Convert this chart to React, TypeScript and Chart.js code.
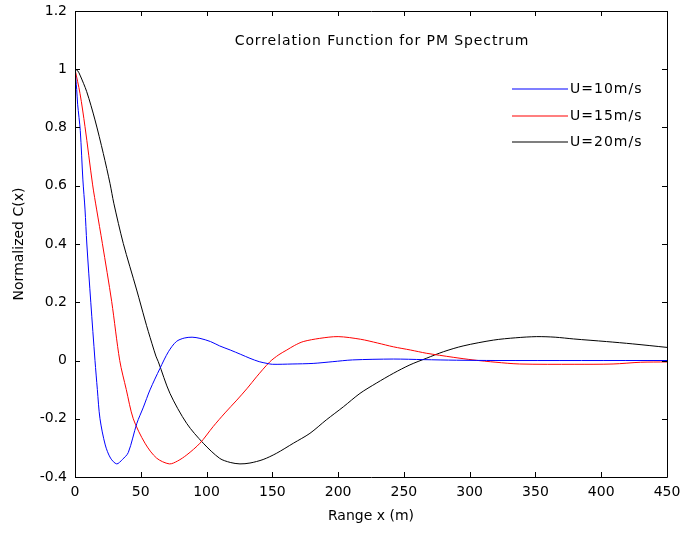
import React, { useEffect, useRef } from "react";
import { Chart, registerables } from "chart.js";

Chart.register(...registerables);

const seriesLabels = ["U=10m/s", "U=15m/s", "U=20m/s"];
const seriesColors = ["#0000ff", "#ff0000", "#000000"];

const x10 = [0, 1.3, 2, 4, 6, 7.6, 9, 12, 15.2, 17, 19, 23, 27, 31.7, 36, 40.5, 47, 52, 57, 64.6, 71, 77, 83, 89, 95, 103, 110, 118, 126, 133, 140, 146, 150, 165, 181, 196, 211, 242, 265, 290, 320, 450];
const y10 = [1, 0.93, 0.88, 0.79, 0.62, 0.52, 0.4, 0.2, 0, -0.1, -0.2, -0.29, -0.335, -0.355, -0.34, -0.316, -0.216, -0.16, -0.101, -0.027, 0.03, 0.065, 0.077, 0.08, 0.076, 0.065, 0.05, 0.036, 0.021, 0.0075, -0.004, -0.01, -0.013, -0.012, -0.01, -0.004, 0.002, 0.005, 0.003, 0.001, 0, 0];

const x15 = [0, 3.8, 7.6, 13.4, 16.5, 20.8, 27.9, 34, 39, 44.3, 53.2, 62, 71.7, 78, 85, 95, 105, 114, 123, 131, 138, 148, 155, 161, 167, 173.5, 186, 200, 217, 230, 242, 255, 267, 277, 287.5, 302.5, 320, 338, 380, 409, 430, 450];
const y15 = [1, 0.917, 0.803, 0.603, 0.517, 0.402, 0.202, 0, -0.1, -0.2, -0.284, -0.335, -0.355, -0.345, -0.324, -0.284, -0.227, -0.18, -0.136, -0.095, -0.056, -0.005, 0.02, 0.036, 0.052, 0.065, 0.076, 0.082, 0.073, 0.06, 0.047, 0.036, 0.025, 0.018, 0.011, 0.002, -0.006, -0.012, -0.013, -0.012, -0.006, -0.005];

const x20 = [0, 2, 3.8, 8.9, 15.2, 21.5, 26.6, 29.5, 36.7, 46.9, 53.2, 55.7, 61.5, 63.3, 72.2, 84.9, 97.5, 110, 118, 125.4, 133, 143, 153, 166, 178.6, 191, 204, 216.6, 229, 242, 254.6, 267, 280, 295, 318, 335, 351, 365, 379, 404, 424, 450];
const y20 = [1, 0.995, 0.98, 0.923, 0.826, 0.711, 0.608, 0.54, 0.402, 0.242, 0.139, 0.1, 0.015, -0.004, -0.113, -0.216, -0.284, -0.336, -0.35, -0.355, -0.352, -0.34, -0.319, -0.284, -0.25, -0.204, -0.159, -0.113, -0.078, -0.044, -0.015, 0.0075, 0.03, 0.05, 0.07, 0.078, 0.082, 0.08, 0.074, 0.065, 0.057, 0.045];

const xTicks = [0, 50, 100, 150, 200, 250, 300, 350, 400, 450];
const yTicks = [-0.4, -0.2, 0, 0.2, 0.4, 0.6, 0.8, 1, 1.2];

const titleText = "Correlation Function for PM Spectrum";
const xTitle = "Range x (m)";
const yTitle = "Normalized C(x)";

const FONT = "'DejaVu Sans', sans-serif";

function pts(xs: number[], ys: number[]) {
  return xs.map((x, i) => ({ x, y: ys[i] }));
}

const frameAndLegend = {
  id: "frameAndLegend",
  afterDatasetsDraw(chart: any) {
    const { ctx, chartArea: a, scales } = chart;
    const xs = scales.x;
    const ys = scales.y;

    // legend lines and labels
    ctx.save();
    const lx0 = a.right - 155;
    const lx1 = lx0 + 56;
    const ly0 = a.top + 78;
    ctx.lineWidth = 1.2;
    seriesLabels.forEach((lab, i) => {
      const yy = Math.round(ly0 + i * 26.5);
      ctx.beginPath();
      ctx.strokeStyle = seriesColors[i];
      ctx.moveTo(lx0, yy);
      ctx.lineTo(lx1, yy);
      ctx.stroke();
    });
    ctx.restore();

    ctx.save();
    ctx.fillStyle = "#000";
    ctx.font = "14px " + FONT;
    ctx.textBaseline = "middle";
    try { (ctx as any).letterSpacing = "1px"; } catch (e) {}
    ctx.textAlign = "left";
    seriesLabels.forEach((lab, i) => {
      const yy = Math.round(ly0 + i * 26.5);
      ctx.fillText(lab, lx1 + 2, yy);
    });
    // title inside the axes
    try { (ctx as any).letterSpacing = "0.9px"; } catch (e) {}
    ctx.textAlign = "center";
    ctx.fillText(titleText, 382, a.top + 30);
    try { (ctx as any).letterSpacing = "0px"; } catch (e) {}
    ctx.restore();

    // frame and inward ticks
    ctx.save();
    ctx.strokeStyle = "#000";
    ctx.lineWidth = 1;
    ctx.beginPath();
    ctx.rect(Math.round(a.left) + 0.5, Math.round(a.top) + 0.5, Math.round(a.right - a.left), Math.round(a.bottom - a.top));
    ctx.stroke();
    const tl = 5;
    ctx.beginPath();
    xTicks.forEach((v) => {
      const px = Math.round(xs.getPixelForValue(v)) + 0.5;
      ctx.moveTo(px, a.bottom);
      ctx.lineTo(px, a.bottom - tl);
      ctx.moveTo(px, a.top);
      ctx.lineTo(px, a.top + tl);
    });
    yTicks.forEach((v) => {
      const py = Math.round(ys.getPixelForValue(v)) + 0.5;
      ctx.moveTo(a.left, py);
      ctx.lineTo(a.left + tl, py);
      ctx.moveTo(a.right, py);
      ctx.lineTo(a.right - tl, py);
    });
    ctx.stroke();
    ctx.restore();
  },
};

export default function App() {
  const ref = useRef<HTMLCanvasElement>(null);
  useEffect(() => {
    if (!ref.current) return;
    const chart = new Chart(ref.current, {
      type: "line",
      data: {
        datasets: [
          { label: seriesLabels[0], data: pts(x10, y10), borderColor: seriesColors[0], borderWidth: 1, pointRadius: 0, tension: 0.3, fill: false },
          { label: seriesLabels[1], data: pts(x15, y15), borderColor: seriesColors[1], borderWidth: 1, pointRadius: 0, tension: 0.3, fill: false },
          { label: seriesLabels[2], data: pts(x20, y20), borderColor: seriesColors[2], borderWidth: 1, pointRadius: 0, tension: 0.3, fill: false },
        ],
      },
      options: {
        responsive: false,
        animation: false,
        layout: { padding: { left: 0, top: 11, right: 15, bottom: 0 } },
        plugins: { legend: { display: false }, tooltip: { enabled: false }, title: { display: false } },
        scales: {
          x: {
            type: "linear",
            min: 0,
            max: 450,
            grid: { display: false, drawTicks: false },
            border: { display: false },
            afterBuildTicks: (s: any) => { s.ticks = xTicks.map((v) => ({ value: v })); },
            afterFit: (s: any) => { s.height = 59; s.paddingLeft = 0; s.paddingRight = 0; },
            ticks: { color: "#000", font: { family: FONT, size: 14 }, padding: 7, maxRotation: 0, autoSkip: false, callback: (v: any) => String(v) },
            title: { display: true, text: xTitle, color: "#000", font: { family: FONT, size: 14 }, padding: { top: 0, bottom: 11 } },
          },
          y: {
            type: "linear",
            min: -0.4,
            max: 1.2,
            grid: { display: false, drawTicks: false },
            border: { display: false },
            afterBuildTicks: (s: any) => { s.ticks = yTicks.map((v) => ({ value: v })); },
            afterFit: (s: any) => { s.width = 75; s.paddingTop = 0; s.paddingBottom = 0; },
            ticks: { color: "#000", font: { family: FONT, size: 14 }, padding: 8, autoSkip: false, callback: (v: any) => String(Math.round(v * 10) / 10) },
            title: { display: true, text: yTitle, color: "#000", font: { family: FONT, size: 14 }, padding: { top: 11, bottom: 0 } },
          },
        },
      },
      plugins: [frameAndLegend],
    } as any);
    return () => chart.destroy();
  }, []);
  return (
    <div style={{ position: "fixed", left: 0, top: 0, width: 682, height: 536, background: "#fff" }}>
      <canvas ref={ref} width={682} height={536} style={{ display: "block" }} />
    </div>
  );
}
